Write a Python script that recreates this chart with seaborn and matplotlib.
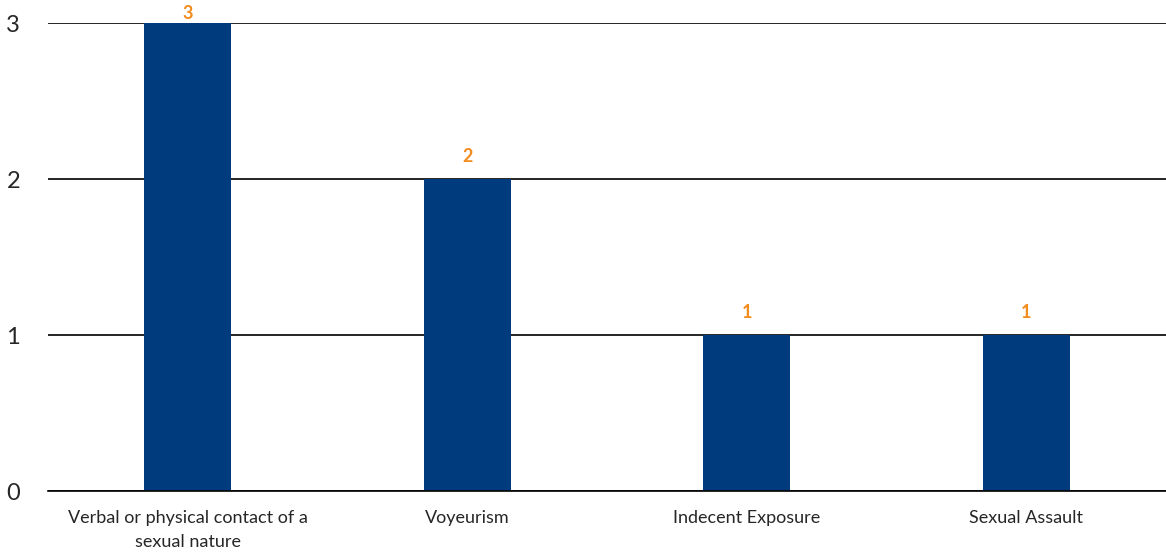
import pandas as pd
import seaborn as sns
import matplotlib.pyplot as plt

# Chart data
categories = [
    "Verbal or physical contact of a\nsexual nature",
    "Voyeurism",
    "Indecent Exposure",
    "Sexual Assault",
]
counts = [3, 2, 1, 1]

df = pd.DataFrame({"Category": categories, "Count": counts})

sns.set_style("white")
plt.rcParams["font.family"] = ["Lato", "DejaVu Sans"]

fig = plt.figure(figsize=(11.66, 5.53), dpi=100)
ax = fig.add_axes([0.0412, 0.1121, 0.9588, 0.8463])

sns.barplot(data=df, x="Category", y="Count", color="#003C7D",
            saturation=1, width=0.31, linewidth=0, ax=ax)

ax.set_xlim(-0.5, 3.5)
ax.set_ylim(0, 3)

# value labels above bars (the tallest one is squeezed in under the top edge)
ymax = ax.get_ylim()[1]
for i, v in enumerate(counts):
    off = 1 if v >= ymax else 10
    ax.annotate(str(v), (i, v), xytext=(0, off), textcoords="offset points",
                ha="center", va="bottom", color="#F28C1E",
                fontsize=13, fontweight="bold", annotation_clip=False)

ax.set_yticks([0, 1, 2, 3])
ax.yaxis.grid(True, color="black", linewidth=1.2)
ax.set_axisbelow(True)
for s in ["top", "right", "left"]:
    ax.spines[s].set_visible(False)
ax.spines["bottom"].set_color("black")
ax.spines["bottom"].set_linewidth(1.2)

ax.tick_params(axis="y", length=0, pad=20, labelsize=17)
ax.tick_params(axis="x", length=0, pad=14, labelsize=13)
for lbl in ax.get_xticklabels():
    lbl.set_linespacing(1.6)
ax.set_xlabel("")
ax.set_ylabel("")

fig.savefig("out.png", dpi=100)
